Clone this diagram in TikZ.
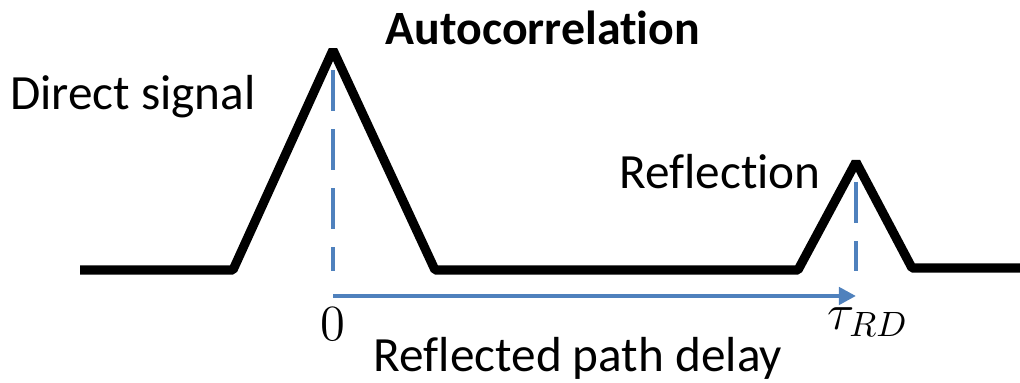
\documentclass[tikz,border=0pt]{standalone}
\usepackage{fontspec}
\setmainfont{Carlito}[Ligatures=NoCommon]
\usepackage{tikz}
\usetikzlibrary{arrows.meta}
\definecolor{delayblue}{RGB}{79,129,189}
\newcommand{\drawsignal}{\draw[line width=2.6pt, line join=bevel]}
\newcommand{\drawmarker}{\draw[delayblue, line width=1.2pt, dash pattern=on 0.41cm off 0.18cm]}
\tikzset{
  label/.style={inner sep=0pt, font=\fontsize{14}{17}\selectfont},
  mathlabel/.style={inner sep=0pt, font=\fontsize{14.5}{17}\selectfont}
}

\begin{document}
\begin{tikzpicture}[x=0.01cm, y=-0.01cm]
\useasboundingbox (0,0) rectangle (1020,383);
% correlation curve
\coordinate (start) at (80,270);
\coordinate (footA) at (233,270);
\coordinate (peakA) at (333,50);
\coordinate (footB) at (435,270);
\coordinate (footC) at (798,270);
\coordinate (peakB) at (856,162);
\coordinate (footD) at (912,268);
\coordinate (stop) at (1020,268);
\drawsignal (start)--(footA)--(peakA)--(footB)--(footC)--(peakB)--(footD)--(stop);
% markers under the peaks
\coordinate (zero) at (333,296);
\coordinate (tau) at (856,296);
\drawmarker (333,70)--(333,271);
\drawmarker (856,182)--(856,271);
\draw[delayblue, line width=1.2pt, -{Triangle[length=0.17cm, width=0.17cm]}] (zero)--(tau);
% texts
\node[label, font=\fontsize{13.6}{17}\selectfont\bfseries] (title) at (543,28) {Autocorrelation};
\node[label] (direct) at (133,97) {Direct signal};
\node[label] (refl) at (720,172) {Reflection};
\node[mathlabel] (zerolbl) at (333,324) {$0$};
\node[mathlabel] (taulbl) at (868,322) {$\tau_{RD}$};
\node[label] (delay) at (578,358) {Reflected path delay};
\end{tikzpicture}
\end{document}
